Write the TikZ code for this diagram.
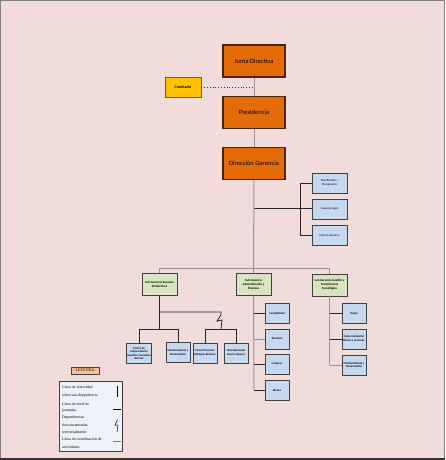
\documentclass[tikz,border=0pt]{standalone}
\usepackage{fontspec}
\setmainfont{Carlito}
\newfontfamily\legfont{Liberation Serif}
\definecolor{bgpink}{HTML}{F2DCDB}
\definecolor{orangebox}{HTML}{E36C09}
\definecolor{orangeedge}{HTML}{4A2508}
\definecolor{yellowbox}{HTML}{FFC000}
\definecolor{yellowedge}{HTML}{7F6000}
\definecolor{greenbox}{HTML}{D7E4BD}
\definecolor{bluebox}{HTML}{C6D9F1}
\definecolor{boxedge}{HTML}{404040}
\definecolor{trunk}{HTML}{A09090}
\definecolor{legbox}{HTML}{EEF1F7}
\definecolor{legtitle}{HTML}{FAC090}
\tikzset{
  every node/.style={inner sep=0.5pt, align=center},
  topbox/.style={draw=orangeedge, fill=orangebox, line width=1.2pt, minimum width=62pt, minimum height=32pt, font=\fontsize{6.5}{8}\selectfont},
  combox/.style={draw=yellowedge, fill=yellowbox, line width=0.8pt, minimum width=36pt, minimum height=20pt, font=\fontsize{4}{5}\selectfont\bfseries},
  staffbox/.style={draw=boxedge, fill=bluebox, line width=0.8pt, minimum width=35pt, minimum height=20pt, font=\fontsize{3}{3.8}\selectfont},
  subbox/.style={draw=boxedge, fill=greenbox, line width=0.8pt, minimum width=35pt, minimum height=22pt, font=\fontsize{3.1}{3.9}\selectfont\bfseries},
  unitbox/.style={draw=boxedge, fill=bluebox, line width=0.8pt, minimum width=24pt, minimum height=20pt, font=\fontsize{2.9}{3.6}\selectfont\bfseries},
  trunkline/.style={draw=trunk, line width=1pt},
  branch/.style={draw=black!85, line width=0.8pt},
  legtext/.style={anchor=west, font=\legfont\fontsize{3.9}{4.4}\selectfont, inner sep=0pt}
}
\begin{document}
\begin{tikzpicture}[x=1pt,y=-1pt]
\useasboundingbox (0,0) rectangle (445,460);
\fill[bgpink] (0,0) rectangle (445,460);
\draw[gray, line width=1pt] (0.5,0.5) rectangle (444.5,459.5);
\draw[black!80, line width=1.2pt] (0,459) -- (445,459);

% top nodes
\node[topbox] (junta) at (254,61) {Junta Directiva};
\node[combox] (comis) at (183,87) {Comisario};
\node[topbox] (pres) at (254,112.5) {Presidencia};
\node[topbox] (dir) at (254,163.5) {Dirección Gerencia};
\coordinate (cdot) at (254,87);
\draw[trunkline] (junta) -- (pres);
\draw[trunkline] (pres) -- (dir);
\draw[black!80, dotted, line width=0.8pt] (comis.east) -- (cdot);

% staff
\node[staffbox] (plan) at (329.5,183) {Planificación y\\Presupuesto};
\node[staffbox] (ases) at (329.5,209) {Asesoría Legal};
\node[staffbox] (tal) at (329.5,235.5) {Talento Humano};
\coordinate (sj) at (254,208);
\coordinate (st) at (300,183);
\coordinate (sm) at (300,208);
\coordinate (sb) at (300,235.5);
\draw[branch] (sj) -- (sm);
\draw[branch] (st) -- (sb);
\draw[branch] (st) -- (plan.west);
\draw[branch] (sm) -- (ases.west |- sm);
\draw[branch] (sb) -- (tal.west);

% sub gerencias
\node[subbox] (sg1) at (159.5,284) {Sub Gerencia Espacios\\Productivos};
\node[subbox] (sg2) at (253.5,284.5) {Sub Gerencia\\Administración y\\Finanzas};
\node[subbox] (sg3) at (329.5,285) {Sub Gerencia Gestión y\\Transferencia\\Tecnológica};
\coordinate (bus) at (254,268);
\coordinate (busl) at (159.5,268);
\coordinate (busr) at (329.5,268);
\draw[trunkline] (dir) -- (sg2);
\draw[trunkline] (busl) -- (busr);
\draw[trunkline] (busl) -- (sg1);
\draw[trunkline] (busr) -- (sg3);

% left group
\node[unitbox] (centro) at (139,353.5) {Centro de\\Mejoramiento\\Genético Ganadero\\Barinas};
\node[unitbox] (mant) at (178,352.5) {Mantenimiento y\\Mecanización};
\node[unitbox] (finca) at (205,353) {Finca El Carmen\\(Obispos-Barinas)};
\node[unitbox] (hato) at (236,353) {Hato Hernando\\Gorrín (Apure)};
\coordinate (l1) at (159.5,312);
\coordinate (l2) at (159.5,329);
\coordinate (l3) at (221,312);
\coordinate (ll) at (139,329);
\coordinate (lr) at (178,329);
\coordinate (rl) at (205,329);
\coordinate (rr) at (236,329);
\coordinate (zz) at (221,329);
\draw[branch] (sg1) -- (l2);
\draw[branch] (ll) -- (lr);
\draw[branch] (ll) -- (centro);
\draw[branch] (lr) -- (mant);
\draw[branch] (l1) -- (l3) -- ++(0,3) -- ++(-4,6) -- ++(5,-1) -- (zz);
\draw[branch] (rl) -- (rr);
\draw[branch] (rl) -- (finca);
\draw[branch] (rr) -- (hato);

% admin group
\node[unitbox] (cont) at (277,313.5) {Contabilidad};
\node[unitbox] (teso) at (277,339) {Tesorería};
\node[unitbox] (comp) at (277,364) {Compras};
\node[unitbox] (bien) at (277,390) {Bienes};
\coordinate (a0) at (254,390);
\draw[trunkline] (sg2) -- (a0);
\draw[branch] (cont.west -| a0) -- (cont.west);
\draw[trunkline] (teso.west -| a0) -- (teso.west);
\draw[branch] (comp.west -| a0) -- (comp.west);
\draw[branch] (a0) -- (bien.west);

% right group
\node[unitbox] (pesa) at (354,313.5) {Pesaje};
\node[unitbox] (comer) at (354,339) {Comercialización\\Bienes y Servicios};
\node[unitbox] (mant2) at (354,365) {Mantenimiento y\\Mecanización};
\coordinate (r0) at (329.5,365);
\draw[trunkline] (sg3) -- (r0);
\draw[branch] (pesa.west -| r0) -- (pesa.west);
\draw[branch] (comer.west -| r0) -- (comer.west);
\draw[trunkline] (r0) -- (mant2.west);

% legend
\node[draw=boxedge, fill=legtitle, line width=0.6pt, minimum width=28pt, minimum height=7pt, font=\legfont\fontsize{4}{5}\selectfont] (leyt) at (85,370.5) {LEYENDA};
\node[draw=boxedge, fill=legbox, line width=0.8pt, minimum width=63pt, minimum height=70pt] (ley) at (90.5,416) {};
\node[legtext] (t1) at (62,387) {Línea de Autoridad};
\node[legtext] (t2) at (62,396) {sobre una dependencia};
\node[legtext] (t3) at (62,404.5) {Línea de nivel de};
\node[legtext] (t4) at (62,411) {jerarquía};
\node[legtext] (t5) at (62,417.5) {Dependencias};
\node[legtext] (t6) at (62,425) {desconcentradas};
\node[legtext] (t7) at (62,432.5) {territorialmente};
\node[legtext] (t8) at (62,439.5) {Línea de coordinación de};
\node[legtext] (t9) at (62,447) {actividades};
\coordinate (v1) at (117,386);
\coordinate (v2) at (117,397);
\coordinate (h1) at (113,409);
\coordinate (h2) at (121,409);
\coordinate (z1) at (117,419);
\coordinate (z2) at (117,432);
\coordinate (g1) at (113,441.5);
\coordinate (g2) at (121,441.5);
\draw[black, line width=0.6pt] (v1) -- (v2);
\draw[black, line width=0.6pt] (h1) -- (h2);
\draw[black, line width=0.5pt] (z1) -- ++(0,2) -- ++(-2,4) -- ++(3,0) -- (z2);
\draw[gray, line width=0.7pt] (g1) -- (g2);
\end{tikzpicture}
\end{document}
